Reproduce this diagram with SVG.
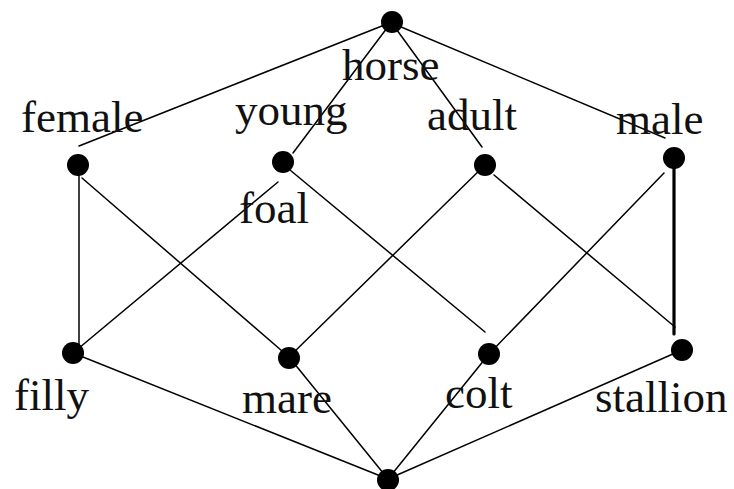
<svg xmlns="http://www.w3.org/2000/svg" width="734" height="489" viewBox="0 0 734 489">
<style>
.n{fill:#000}
.e{stroke:#000;stroke-width:1.5;fill:none;stroke-linecap:round}
.t{stroke-width:3.2}
text{font-family:"Liberation Serif","Times New Roman",serif;font-size:45px;fill:#111}
</style>
<rect width="734" height="489" fill="#fff"/>
<g id="connectors">
<line class="e" x1="392" y1="22" x2="79" y2="146"/>
<line class="e" x1="390" y1="24" x2="293" y2="153"/>
<line class="e" x1="394" y1="26" x2="482" y2="147"/>
<line class="e" x1="394" y1="24" x2="665" y2="138"/>
<line class="e" x1="79" y1="165" x2="79" y2="345"/>
<line class="e" x1="82" y1="178" x2="289" y2="357"/>
<line class="e" x1="278" y1="182" x2="73" y2="353"/>
<line class="e" x1="290" y1="170" x2="485" y2="332"/>
<line class="e" x1="485" y1="165" x2="289" y2="357"/>
<line class="e" x1="494" y1="175" x2="675" y2="327"/>
<line class="e" x1="664" y1="173" x2="489" y2="354"/>
<line class="e t" x1="674" y1="158" x2="674" y2="334"/>
<line class="e" x1="73" y1="353" x2="388" y2="479"/>
<line class="e" x1="289" y1="357" x2="388" y2="479"/>
<line class="e" x1="489" y1="354" x2="388" y2="479"/>
<line class="e" x1="682" y1="350" x2="388" y2="479"/>
</g>
<g id="horse"><circle class="n" cx="392" cy="22" r="11"/><text x="342" y="80">horse</text></g>
<g id="female"><circle class="n" cx="78" cy="165" r="11"/><text x="21" y="132">female</text></g>
<g id="young"><circle class="n" cx="283" cy="162" r="11"/><text x="235" y="125">young</text><text x="239" y="223">foal</text></g>
<g id="adult"><circle class="n" cx="485" cy="165" r="11"/><text x="427" y="130">adult</text></g>
<g id="male"><circle class="n" cx="674" cy="158" r="11"/><text x="616" y="134">male</text></g>
<g id="filly"><circle class="n" cx="73" cy="353" r="11"/><text x="14" y="410">filly</text></g>
<g id="mare"><circle class="n" cx="289" cy="358" r="11"/><text x="242" y="413">mare</text></g>
<g id="colt"><circle class="n" cx="489" cy="354" r="11"/><text x="445" y="408">colt</text></g>
<g id="stallion"><circle class="n" cx="682" cy="350" r="11"/><text x="595" y="412">stallion</text></g>
<g id="bottom"><circle class="n" cx="388" cy="480" r="11"/></g>
</svg>
